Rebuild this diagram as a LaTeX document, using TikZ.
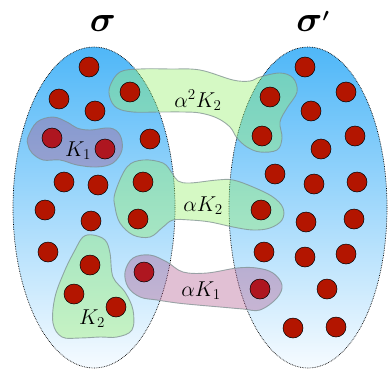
\documentclass[tikz,border=0pt]{standalone}
\usepackage{fix-cm}
\definecolor{skytop}{HTML}{4FB7F8}
\definecolor{skymid}{HTML}{9FD6FB}
\definecolor{skybot}{HTML}{F6FBFF}
\definecolor{dotred}{HTML}{B31500}
\definecolor{dotpink}{HTML}{AE1620}
\definecolor{blobgreen}{RGB}{150,240,107}
\definecolor{blobpurple}{RGB}{169,74,131}
\definecolor{blobedge}{HTML}{7E9090}
\begin{document}
\begin{tikzpicture}[x=1pt,y=-1pt,
  ell/.style={top color=skytop, middle color=skymid, bottom color=skybot, draw=black, densely dotted, line width=0.7pt},
  dot/.style={circle, fill=dotred, draw=black, line width=0.5pt, minimum size=20pt, inner sep=0pt},
  pdot/.style={dot, fill=dotpink},
  gblob/.style={fill=blobgreen, fill opacity=0.4, draw=blobedge, draw opacity=0.75, line width=0.9pt},
  pblob/.style={fill=blobpurple, fill opacity=0.35, draw=blobedge, draw opacity=0.75, line width=0.9pt},
  lab/.style={font=\fontsize{21.5}{24}\selectfont, inner sep=0pt},
  ttl/.style={font=\boldmath\fontsize{36}{40}\selectfont, inner sep=0pt, anchor=base}]
\useasboundingbox (0,0) rectangle (388,370);
% ellipses
\shade[ell] (94,207.5) ellipse [x radius=81pt, y radius=160.5pt];
\shade[ell] (308,207.5) ellipse [x radius=79pt, y radius=160.5pt];
% titles
\node[ttl] (s) at (103,31) {$\sigma$};
\node[ttl] (sp) at (309.5,31) {$\sigma$\rlap{\fontsize{26}{28}\selectfont$^{\prime}$}};
% blobs
\draw[gblob] plot[smooth cycle, tension=0.6] coordinates {
  (110,86) (120,72) (140,69) (170,69) (200,70) (233,80) (250,81) (260,77) (280,73) (293,78)
  (297,92) (287,108) (280,122) (282,138) (277,150) (260,152) (247,147) (237,138) (230,127)
  (217,118) (200,113) (183,112) (160,112) (133,112) (117,108) (110,98)};
\draw[gblob] plot[smooth cycle, tension=0.6] coordinates {
  (115,193) (127,167) (143,160) (163,163) (172,173) (178,181) (190,183) (217,180) (233,180)
  (253,187) (273,197) (283,208) (282,220) (270,228) (253,230) (233,227) (210,222) (190,220)
  (173,220) (163,227) (150,237) (133,235) (120,223) (115,207)};
\draw[pblob] plot[smooth cycle, tension=0.6] coordinates {
  (28,137) (37,122) (53,117) (67,122) (77,128) (90,130) (110,128) (120,135) (122,150)
  (113,163) (97,167) (77,165) (60,160) (43,160) (32,153) (28,145)};
\draw[gblob] plot[smooth cycle, tension=0.6] coordinates {
  (93,235) (105,240) (110,253) (113,277) (125,292) (133,310) (132,330) (117,337) (100,337)
  (80,338) (62,337) (53,323) (55,297) (65,270) (75,250) (83,237)};
\draw[pblob] plot[smooth cycle, tension=0.6] coordinates {
  (125,272) (133,258) (150,255) (167,262) (183,272) (207,273) (237,268) (257,268) (273,273)
  (282,285) (277,298) (260,310) (243,309) (220,307) (197,305) (177,303) (157,300) (140,297)
  (128,287)};
% left dots
\node[dot] (l1) at (89,67) {};
\node[dot] (l2) at (59,99) {};
\node[dot] (l3) at (95,111) {};
\node[dot] (l4) at (130,92) {};
\node[pdot] (l5) at (52,138) {};
\node[pdot] (l6) at (105,149) {};
\node[dot] (l7) at (150,139) {};
\node[dot] (l8) at (64,182) {};
\node[dot] (l9) at (98,185) {};
\node[dot] (l10) at (143,182) {};
\node[dot] (l11) at (45,210) {};
\node[dot] (l12) at (91,221) {};
\node[dot] (l13) at (138,219) {};
\node[dot] (l14) at (48,252) {};
\node[dot] (l15) at (90,265) {};
\node[dot] (l16) at (74,294) {};
\node[dot] (l17) at (116,307) {};
\node[pdot] (l18) at (144,272) {};
% right dots
\node[dot] (r1) at (305,67) {};
\node[dot] (r2) at (346,92) {};
\node[dot] (r3) at (270,97) {};
\node[dot] (r4) at (311,111) {};
\node[dot] (r5) at (355,136) {};
\node[dot] (r6) at (262,136) {};
\node[dot] (r7) at (321,149) {};
\node[dot] (r8) at (275,174) {};
\node[dot] (r9) at (314,184) {};
\node[dot] (r10) at (357,182) {};
\node[dot] (r11) at (261,210) {};
\node[dot] (r12) at (306,222) {};
\node[dot] (r13) at (354,219) {};
\node[dot] (r14) at (264,252) {};
\node[dot] (r15) at (305,257) {};
\node[dot] (r16) at (346,254) {};
\node[pdot] (r17) at (260,289) {};
\node[dot] (r18) at (327,289) {};
\node[dot] (r19) at (293,328) {};
\node[dot] (r20) at (336,327) {};
% labels
\node[lab] (a2k2) at (198,100) {$\alpha^2K_2$};
\node[lab] (ak2) at (203,206) {$\alpha K_2$};
\node[lab] (k1) at (78,151) {$K_1$};
\node[lab] (k2) at (92,319) {$K_2$};
\node[lab] (ak1) at (201,291) {$\alpha K_1$};
\end{tikzpicture}
\end{document}
